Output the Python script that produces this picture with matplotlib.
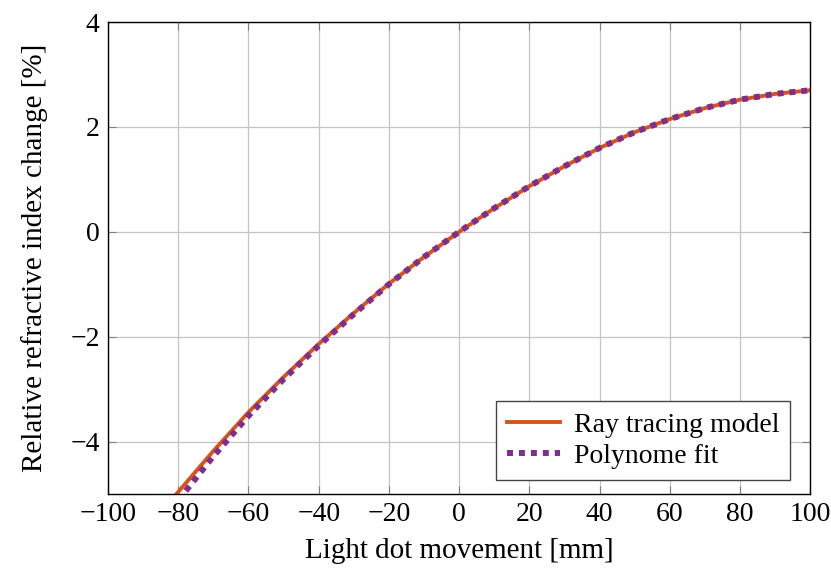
import matplotlib
matplotlib.use('Agg')
from matplotlib import pyplot as plt
import numpy as np

# values
x_mm = [-82, -80, -70, -60, -50, -40, -30, -20, -10, 0, 10, 20, 30, 40, 50, 60, 70, 80, 90, 100]
ray_tracing = [-5.12, -4.96, -4.18, -3.44, -2.77, -2.14, -1.55, -0.99, -0.48, 0.0,
               0.45, 0.87, 1.25, 1.60, 1.90, 2.15, 2.36, 2.52, 2.63, 2.70]
poly_fit = [-5.30, -5.12, -4.28, -3.51, -2.81, -2.17, -1.57, -1.00, -0.48, 0.0,
            0.45, 0.87, 1.25, 1.60, 1.90, 2.15, 2.36, 2.52, 2.63, 2.70]

xticks = [-100, -80, -60, -40, -20, 0, 20, 40, 60, 80, 100]
yticks = [-4, -2, 0, 2, 4]

plt.rcParams['font.family'] = ['Liberation Serif', 'DejaVu Serif']
plt.rcParams['font.size'] = 20

fig = plt.figure(figsize=(8.31, 5.70), dpi=100)
ax = fig.add_axes([0.130, 0.1333, 0.845, 0.828])

ax.plot(x_mm, ray_tracing, color='#D95319', linewidth=2.8, label='Ray tracing model')
ax.plot(x_mm, poly_fit, color='#7E2F8E', linewidth=4.3, dashes=(1, 1),
        dash_capstyle='butt', label='Polynome fit')

ax.set_xlim(-100, 100)
ax.set_ylim(-5, 4)
ax.set_xticks(xticks)
ax.set_yticks(yticks)
ax.grid(True, color='#c4c4c4', linewidth=0.9)
ax.set_axisbelow(True)
ax.tick_params(direction='in', top=True, right=True, length=6, color='#808080', pad=6)
for s in ax.spines.values():
    s.set_linewidth(1.0)

ax.set_xlabel('Light dot movement [mm]', fontsize=21, labelpad=8)
ax.set_ylabel('Relative refractive index change [%]', fontsize=21, labelpad=16)

leg = ax.legend(loc='lower right', bbox_to_anchor=(0.9715, 0.0297), borderaxespad=0,
                fancybox=False, framealpha=1, edgecolor='#444444', handlelength=1.9,
                borderpad=0.4, labelspacing=0.2, handletextpad=0.5)
leg.get_frame().set_linewidth(1.0)

plt.savefig('out.png', dpi=100)
